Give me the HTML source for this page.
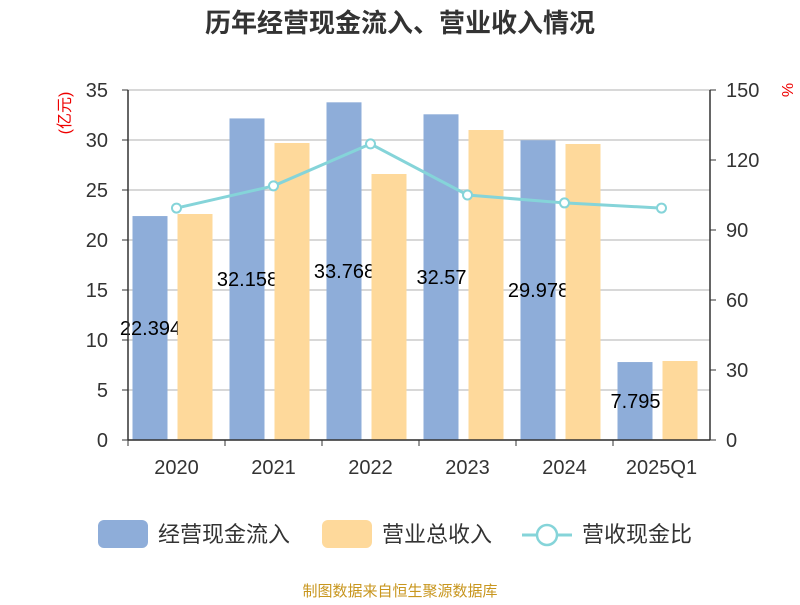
<!DOCTYPE html>
<html><head><meta charset="utf-8"><style>
body{margin:0;background:#fff;}
svg text{font-family:"Liberation Sans","Noto Sans CJK SC",sans-serif;}
</style></head><body>
<svg id="chart" width="800" height="600" xmlns="http://www.w3.org/2000/svg">
<text x="400" y="32" text-anchor="middle" font-size="26" font-weight="bold" fill="#333">历年经营现金流入、营业收入情况</text>
<text transform="translate(70,113) rotate(-90)" text-anchor="middle" font-size="16" fill="#e00">(亿元)</text>
<text transform="translate(782,90) rotate(90)" text-anchor="middle" font-size="16" fill="#e00">%</text>
<g id="grid"></g><g id="bars"></g><g id="labels"></g><g id="bars2"></g><g id="axes"></g><g id="line"></g>
<g>
<rect x="98" y="520" width="50" height="28" rx="6" fill="#8eadd9"/>
<text x="158" y="542" font-size="22" fill="#333">经营现金流入</text>
<rect x="322" y="520" width="50" height="28" rx="6" fill="#fed99b"/>
<text x="382" y="542" font-size="22" fill="#333">营业总收入</text>
<line x1="522" y1="535" x2="572" y2="535" stroke="#85d4d9" stroke-width="3"/>
<circle cx="547" cy="535" r="10" fill="#fff" stroke="#85d4d9" stroke-width="2.5"/>
<text x="582" y="542" font-size="22" fill="#333">营收现金比</text>
</g>
<text x="400" y="596" text-anchor="middle" font-size="15" fill="#c8961e">制图数据来自恒生聚源数据库</text>
</svg>
<script>
const categories=["2020","2021","2022","2023","2024","2025Q1"];
const cashInflow=[22.394,32.158,33.768,32.57,29.978,7.795];
const cashLabels=["22.394","32.158","33.768","32.57","29.978","7.795"];
const revenue=[22.6,29.7,26.6,31.0,29.6,7.9];
const ratio=[99.4,108.9,126.9,105.0,101.6,99.4];
const leftTicks=[0,5,10,15,20,25,30,35];
const rightTicks=[0,30,60,90,120,150];
const NS="http://www.w3.org/2000/svg";
const L=128,R=710,T=90,B=440;
const yL=v=>B-(v/35)*(B-T);
const yR=v=>B-(v/150)*(B-T);
const bw=(R-L)/categories.length;
const cx=i=>L+bw*(i+0.5);
function mk(tag,attrs,parent,txt){const e=document.createElementNS(NS,tag);for(const k in attrs)e.setAttribute(k,attrs[k]);if(txt!==undefined)e.textContent=txt;document.getElementById(parent).appendChild(e);return e;}
leftTicks.forEach(t=>{
 const g=mk("line",{x1:L,x2:R,y1:yL(t),y2:yL(t),stroke:"#ccc","stroke-width":1.5},"grid");
 
 
 const lt=mk("text",{x:108,y:yL(t)+7,"text-anchor":"end","font-size":20,fill:"#333"},"axes",t);
 
 
 const tk=mk("line",{x1:L-6,x2:L,y1:yL(t),y2:yL(t),stroke:"#333"},"axes");
 
 
});
rightTicks.forEach(t=>{
 const rt=mk("text",{x:726,y:yR(t)+7,"font-size":20,fill:"#333"},"axes",t);
 
 
 const tk=mk("line",{x1:R,x2:R+6,y1:yR(t),y2:yR(t),stroke:"#333"},"axes");
 
 
});
[["left-axis",L,T,L,B],["right-axis",R,T,R,B],["x-axis",L,B,R,B]].forEach(a=>{
 const e=mk("line",{x1:a[1],y1:a[2],x2:a[3],y2:a[4],stroke:"#333","stroke-width":1.5},"axes");
 
 
});
categories.forEach((c,i)=>{
 const xt=mk("text",{x:cx(i),y:474,"text-anchor":"middle","font-size":20,fill:"#333"},"axes",c);
 
 
 const tk=mk("line",{x1:L+bw*i,x2:L+bw*i,y1:B,y2:B+6,stroke:"#333"},"axes");
 
 
 const b1=mk("rect",{x:cx(i)-44,y:yL(cashInflow[i]),width:35,height:B-yL(cashInflow[i]),fill:"#8eadd9"},"bars");
 
 
 const lb=mk("text",{x:cx(i)-26,y:(yL(cashInflow[i])+B)/2+7,"text-anchor":"middle","font-size":20,fill:"#000"},"labels",cashLabels[i]);
 
 
 const b2=mk("rect",{x:cx(i)+1,y:yL(revenue[i]),width:35,height:B-yL(revenue[i]),fill:"#fed99b"},"bars2");
 
 
});
const pts=ratio.map((v,i)=>cx(i)+","+yR(v)).join(" ");
const pl=mk("polyline",{points:pts,fill:"none",stroke:"#85d4d9","stroke-width":3},"line");


ratio.forEach((v,i)=>{
 const p=mk("circle",{cx:cx(i),cy:yR(v),r:4.5,fill:"#fff",stroke:"#85d4d9","stroke-width":2},"line");
 
 
});
</script>
</body></html>
